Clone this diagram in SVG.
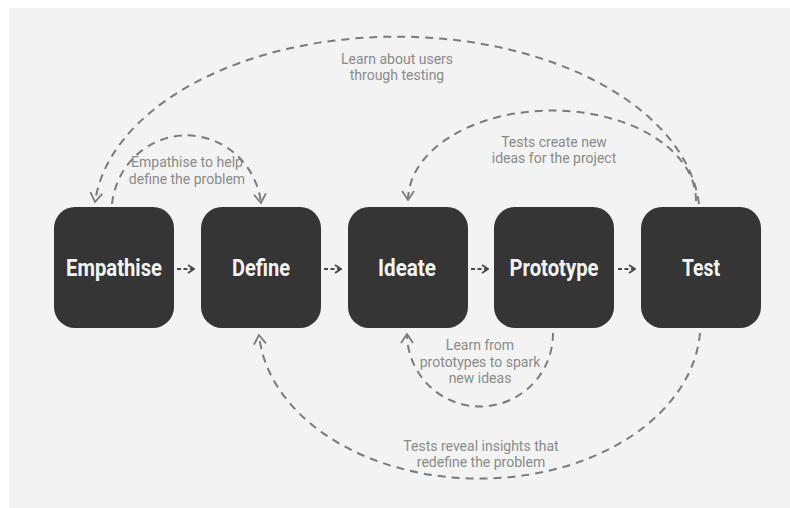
<svg xmlns="http://www.w3.org/2000/svg" width="790" height="508" viewBox="0 0 790 508">
<style>
.node rect{fill:#353535}
.node text{font-family:Roboto,"Liberation Sans",sans-serif;font-weight:700;font-size:24px;fill:#f4f4f4;text-anchor:middle}
.loop{fill:none;stroke:#7b7b7b;stroke-width:2;stroke-dasharray:8 6}
.step{fill:none;stroke:#4a4a4a;stroke-width:1.8;stroke-dasharray:4 2.5}
.lbl{font-family:Roboto,"Liberation Sans",sans-serif;font-size:14px;fill:#8a8a8a;text-anchor:middle}
</style>
<defs>
<marker id="ah" viewBox="0 0 12 14" refX="10" refY="7" markerWidth="12" markerHeight="14" markerUnits="userSpaceOnUse" orient="auto">
<path d="M1,1 L10,7 L1,13" fill="none" stroke="#7b7b7b" stroke-width="1.8"/>
</marker>
<marker id="as" viewBox="0 0 8 10" refX="7" refY="5" markerWidth="8" markerHeight="10" markerUnits="userSpaceOnUse" orient="auto">
<path d="M1,1 L7,5 L1,9" fill="none" stroke="#4a4a4a" stroke-width="1.8"/>
</marker>
</defs>
<rect x="0" y="0" width="790" height="508" fill="#ffffff"/>
<rect x="9" y="8" width="781" height="500" fill="#f3f3f3"/>
<g id="connectors">
<path class="step" d="M177,269 L194,269" marker-end="url(#as)"/>
<path class="step" d="M324,269 L341,269" marker-end="url(#as)"/>
<path class="step" d="M471,269 L488,269" marker-end="url(#as)"/>
<path class="step" d="M618,269 L635,269" marker-end="url(#as)"/>
<path class="loop" d="M112,204 A75,77 0 0 1 261,203" marker-end="url(#ah)"/>
<path class="loop" d="M699,204 A303,181 0 0 0 95,202" marker-end="url(#ah)"/>
<path class="loop" d="M696,201 A144,90 0 0 0 408,200" marker-end="url(#ah)"/>
<path class="loop" d="M553,333 A73,73 0 0 1 407,334" marker-end="url(#ah)"/>
<path class="loop" d="M700,333 A221,155 0 0 1 259,335" marker-end="url(#ah)"/>
</g>
<g id="labels">
<text class="lbl" x="187" y="167">Empathise to help</text>
<text class="lbl" x="187" y="184">define the problem</text>
<text class="lbl" x="397" y="64">Learn about users</text>
<text class="lbl" x="397" y="80">through testing</text>
<text class="lbl" x="554" y="147">Tests create new</text>
<text class="lbl" x="554" y="163">ideas for the project</text>
<text class="lbl" x="480" y="350">Learn from</text>
<text class="lbl" x="480" y="367">prototypes to spark</text>
<text class="lbl" x="480" y="383">new ideas</text>
<text class="lbl" x="481" y="451">Tests reveal insights that</text>
<text class="lbl" x="481" y="467">redefine the problem</text>
</g>
<g id="empathise" class="node">
<rect x="54" y="207" width="120" height="121" rx="21"/>
<text x="114" y="276" textLength="96" lengthAdjust="spacingAndGlyphs">Empathise</text>
</g>
<g id="define" class="node">
<rect x="201" y="207" width="120" height="121" rx="21"/>
<text x="261" y="276" textLength="58" lengthAdjust="spacingAndGlyphs">Define</text>
</g>
<g id="ideate" class="node">
<rect x="348" y="207" width="120" height="121" rx="21"/>
<text x="407" y="276" textLength="58" lengthAdjust="spacingAndGlyphs">Ideate</text>
</g>
<g id="prototype" class="node">
<rect x="494" y="207" width="120" height="121" rx="21"/>
<text x="554" y="276" textLength="89" lengthAdjust="spacingAndGlyphs">Prototype</text>
</g>
<g id="test" class="node">
<rect x="641" y="207" width="120" height="121" rx="21"/>
<text x="701" y="276" textLength="38" lengthAdjust="spacingAndGlyphs">Test</text>
</g>
</svg>
